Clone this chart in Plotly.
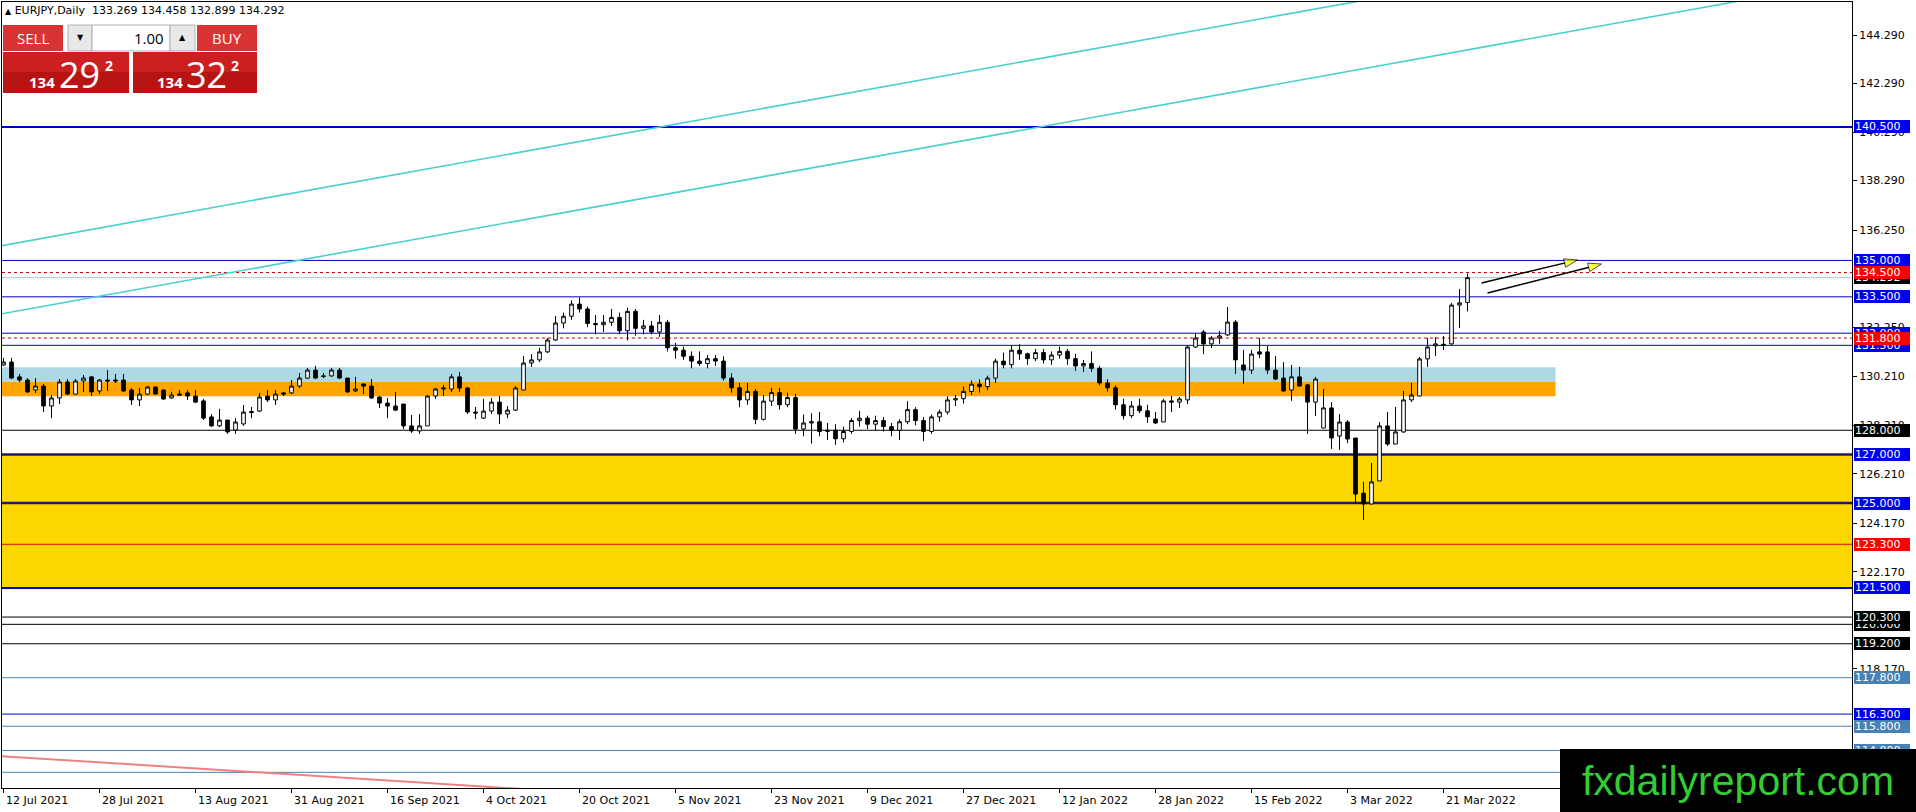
import plotly.graph_objects as go

# EURJPY daily, one entry per trading day (12 Jul 2021 .. 24 Mar 2022)
opens = [
    130.69, 130.81, 130.20, 130.07, 129.66, 129.82, 129.00, 129.33, 129.99, 129.49,
    130.03, 130.20, 129.62, 130.07, 130.07, 130.07, 129.66, 129.25, 129.49, 129.78,
    129.66, 129.33, 129.49, 129.54, 129.41, 129.21, 128.55, 128.18, 128.42, 128.01,
    128.26, 128.77, 128.79, 129.41, 129.25, 129.54, 129.54, 129.82, 130.15, 130.48,
    130.24, 130.24, 130.48, 130.15, 129.62, 129.91, 129.82, 129.37, 129.12, 129.00,
    129.08, 128.18, 127.97, 128.18, 129.41, 129.70, 129.70, 130.20, 129.74, 128.75,
    128.50, 128.79, 129.16, 128.67, 128.83, 129.66, 130.77, 130.90, 131.23, 131.72,
    132.42, 132.70, 133.20, 133.00, 132.40, 132.35, 132.45, 132.65, 132.10, 132.90,
    132.20, 132.30, 132.05, 132.45, 131.40, 131.30, 131.05, 130.85, 130.75, 130.95,
    130.85, 130.15, 129.75, 129.25, 129.60, 128.45, 129.20, 129.55, 129.05, 129.35,
    128.05, 128.30, 128.35, 127.95, 128.00, 127.65, 127.95, 128.40, 128.50, 128.25,
    128.40, 128.15, 128.00, 128.35, 128.85, 128.40, 127.95, 128.55, 128.75, 129.25,
    129.30, 129.60, 129.90, 129.80, 130.15, 130.85, 130.70, 131.30, 131.15, 130.95,
    131.20, 130.90, 131.10, 131.25, 130.95, 130.65, 130.75, 130.55, 129.95, 129.75,
    129.05, 128.60, 129.00, 128.80, 128.46, 128.34, 129.21, 129.16, 129.25, 131.43,
    132.05, 131.56, 131.80, 131.93, 132.46, 130.69, 130.48, 131.23, 131.23, 130.48,
    130.15, 129.66, 130.20, 129.87, 129.16, 128.09, 128.92, 127.76, 128.34, 127.68,
    125.41, 124.96, 125.91, 128.18, 127.43, 127.93, 129.25, 129.41, 130.94, 131.48,
    131.50, 131.56, 133.16, 133.269,
]
highs = [
    130.98, 130.98, 130.32, 130.15, 130.15, 129.91, 129.45, 130.11, 130.11, 130.11,
    130.28, 130.24, 130.11, 130.48, 130.32, 130.32, 129.74, 129.74, 129.82, 129.82,
    129.66, 129.58, 129.66, 129.66, 129.66, 129.29, 128.67, 128.88, 128.42, 128.50,
    129.04, 128.96, 129.54, 129.66, 129.66, 129.58, 130.07, 130.36, 130.57, 130.65,
    130.36, 130.57, 130.57, 130.15, 130.20, 129.91, 130.11, 129.41, 129.33, 129.58,
    129.08, 128.63, 128.67, 129.45, 129.74, 129.87, 130.32, 130.40, 129.78, 128.96,
    129.29, 129.33, 129.41, 129.00, 129.82, 131.06, 131.14, 131.39, 131.80, 132.71,
    132.85, 133.35, 133.48, 133.10, 132.75, 132.75, 133.00, 132.85, 133.05, 133.00,
    132.55, 132.50, 132.75, 132.55, 131.60, 131.45, 131.25, 131.25, 131.10, 131.10,
    131.05, 130.35, 129.95, 129.95, 129.70, 129.45, 129.75, 129.75, 129.55, 129.50,
    128.65, 128.70, 128.75, 128.30, 128.25, 128.15, 128.50, 128.80, 128.60, 128.60,
    128.55, 128.30, 128.45, 129.20, 128.95, 128.55, 128.65, 128.85, 129.40, 129.45,
    129.80, 130.05, 130.10, 130.25, 130.95, 131.20, 131.50, 131.55, 131.20, 131.35,
    131.35, 131.25, 131.45, 131.35, 131.15, 130.90, 131.25, 130.65, 130.10, 129.85,
    129.30, 129.20, 129.30, 129.05, 128.75, 129.29, 129.41, 129.37, 131.48, 132.01,
    132.13, 131.89, 132.09, 133.08, 132.54, 131.31, 131.31, 131.80, 131.48, 131.06,
    130.81, 130.69, 130.61, 129.91, 130.20, 129.70, 129.16, 128.67, 128.42, 127.68,
    125.87, 126.65, 128.34, 128.75, 128.96, 129.62, 129.95, 131.02, 131.80, 131.84,
    131.89, 133.25, 133.82, 134.458,
]
lows = [
    130.65, 130.11, 129.99, 129.54, 129.54, 128.75, 128.50, 129.08, 129.45, 129.49,
    129.58, 129.41, 129.49, 129.62, 129.95, 129.58, 129.04, 129.00, 129.45, 129.49,
    129.25, 129.29, 129.41, 129.25, 129.12, 128.42, 128.13, 128.13, 127.85, 127.85,
    128.18, 128.50, 128.75, 129.16, 129.04, 129.41, 129.49, 129.74, 130.11, 130.11,
    130.15, 130.20, 130.11, 129.54, 129.58, 129.49, 129.29, 128.92, 128.50, 128.79,
    128.05, 127.89, 127.85, 128.18, 129.29, 129.41, 129.58, 129.58, 128.67, 128.46,
    128.46, 128.67, 128.26, 128.50, 128.79, 129.66, 130.61, 130.81, 131.18, 131.68,
    132.20, 132.55, 132.85, 132.25, 131.95, 132.05, 132.30, 131.95, 131.70, 131.90,
    131.95, 131.95, 131.85, 131.25, 130.95, 130.90, 130.55, 130.65, 130.55, 130.65,
    130.05, 129.55, 128.95, 129.05, 128.25, 128.40, 129.00, 128.85, 128.95, 127.85,
    127.75, 127.45, 127.75, 127.60, 127.40, 127.50, 127.85, 128.15, 128.05, 128.00,
    127.95, 127.75, 127.60, 128.25, 128.20, 127.55, 127.85, 128.35, 128.65, 129.00,
    129.10, 129.45, 129.55, 129.65, 129.95, 130.55, 130.55, 130.90, 130.70, 130.85,
    130.75, 130.70, 130.95, 130.70, 130.45, 130.40, 130.40, 129.85, 129.60, 128.85,
    128.45, 128.50, 128.70, 128.30, 128.26, 128.34, 128.75, 128.92, 129.08, 131.39,
    131.14, 131.39, 131.56, 131.89, 130.32, 129.91, 130.32, 130.98, 130.32, 130.07,
    129.58, 129.21, 129.82, 127.85, 128.59, 128.09, 127.23, 127.19, 127.47, 124.96,
    124.30, 124.96, 125.91, 127.35, 127.43, 127.89, 129.16, 129.41, 130.61, 131.06,
    131.31, 131.52, 132.21, 132.899,
]
closes = [
    130.81, 130.15, 130.07, 129.58, 129.82, 129.00, 129.33, 129.99, 129.49, 130.03,
    130.15, 129.58, 130.07, 130.03, 130.03, 129.62, 129.25, 129.49, 129.78, 129.49,
    129.29, 129.45, 129.45, 129.41, 129.16, 128.50, 128.18, 128.42, 127.93, 128.34,
    128.75, 128.73, 129.37, 129.25, 129.49, 129.49, 129.82, 130.15, 130.48, 130.15,
    130.22, 130.48, 130.15, 129.58, 129.70, 129.82, 129.33, 129.12, 129.00, 128.83,
    128.18, 127.97, 128.18, 129.41, 129.70, 129.74, 130.20, 129.74, 128.75, 128.71,
    128.79, 129.16, 128.67, 128.83, 129.74, 130.77, 130.90, 131.23, 131.72, 132.42,
    132.70, 133.20, 133.00, 132.40, 132.35, 132.45, 132.65, 132.10, 132.90, 132.20,
    132.30, 132.05, 132.45, 131.40, 131.30, 131.05, 130.85, 130.75, 130.95, 130.85,
    130.15, 129.75, 129.25, 129.60, 128.45, 129.20, 129.55, 129.05, 129.35, 128.05,
    128.30, 128.35, 127.95, 128.00, 127.65, 127.95, 128.40, 128.50, 128.25, 128.40,
    128.15, 128.00, 128.35, 128.85, 128.40, 127.95, 128.55, 128.75, 129.25, 129.30,
    129.60, 129.90, 129.80, 130.15, 130.85, 130.70, 131.30, 131.15, 130.95, 131.20,
    130.90, 131.10, 131.25, 130.95, 130.65, 130.75, 130.55, 129.95, 129.75, 129.05,
    128.60, 129.00, 128.80, 128.55, 128.30, 129.21, 129.16, 129.29, 131.43, 131.80,
    131.56, 131.80, 131.89, 132.46, 130.90, 130.48, 131.14, 131.14, 130.48, 130.11,
    129.62, 130.20, 129.82, 129.16, 130.11, 128.92, 127.68, 128.34, 127.64, 125.37,
    124.96, 125.87, 128.18, 127.43, 127.93, 129.25, 129.45, 130.94, 131.43, 131.56,
    131.54, 133.16, 133.25, 134.292,
]

date_labels = ['12 Jul 2021', '28 Jul 2021', '13 Aug 2021', '31 Aug 2021', '16 Sep 2021',
               '4 Oct 2021', '20 Oct 2021', '5 Nov 2021', '23 Nov 2021', '9 Dec 2021',
               '27 Dec 2021', '12 Jan 2022', '28 Jan 2022', '15 Feb 2022', '3 Mar 2022',
               '21 Mar 2022']
# price scale marks (the ones fully hidden under level labels are left out)
price_ticks = [144.29, 142.29, 140.29, 138.29, 136.25, 132.25, 130.21,
               128.21, 126.21, 124.17, 122.17, 118.17]

# horizontal levels drawn on the chart
blue_levels = [140.5, 135.0, 133.5, 132.0, 131.5, 121.5, 116.3]
navy_levels = [127.0, 125.0]
steel_levels = [117.8, 115.8, 114.8, 113.9]
black_levels = [128.0, 120.0, 120.3, 119.2]
red_dash_levels = [134.5, 131.8]
red_levels = [123.3]
last_price = 134.292

gold_zone = [121.5, 127.0]
blue_zone = [130.0, 130.6]
orange_zone = [129.4, 130.0]
zone_end = 194

# trend lines: bar index / price anchors
chan_top_x, chan_top_y = [-0.4, 190], [135.60, 146.91]
chan_low_x, chan_low_y = [-0.4, 240], [132.79, 147.06]
coral_x, coral_y = [-0.4, 80], [114.57, 112.90]
arrow1_x, arrow1_y = [184.75, 196.75], [134.07, 135.02]
arrow2_x, arrow2_y = [185.5, 199.75], [133.66, 134.85]

symbol = 'EURJPY,Daily'
bid_big, bid_small, bid_pip = '134', '29', '2'
ask_big, ask_small, ask_pip = '134', '32', '2'
lot = '1.00'

W, H = 1916, 812
L, R, T, B = 2, 64, 2, 24
PW, PH = W - L - R, H - T - B
FONT = 'DejaVu Sans'


def xp(px):
    return (px - L) / PW


def yp(py):
    return (H - B - py) / PH


idx = list(range(len(opens)))

fig = go.Figure()

for xs, ys, col, w in [(chan_top_x, chan_top_y, '#48D1CC', 1.6),
                       (chan_low_x, chan_low_y, '#48D1CC', 1.6),
                       (coral_x, coral_y, '#F08080', 2)]:
    fig.add_trace(go.Scatter(x=xs, y=ys, mode='lines', line=dict(color=col, width=w),
                             hoverinfo='skip', showlegend=False))

fig.add_trace(go.Candlestick(
    x=idx, open=opens, high=highs, low=lows, close=closes,
    increasing=dict(fillcolor='white', line=dict(color='black', width=1)),
    decreasing=dict(fillcolor='black', line=dict(color='black', width=1)),
    showlegend=False,
))

for xs, ys in [(arrow1_x, arrow1_y), (arrow2_x, arrow2_y)]:
    fig.add_trace(go.Scatter(
        x=xs, y=ys, mode='lines+markers', line=dict(color='black', width=1.5),
        marker=dict(symbol='arrow', size=[0, 14], angleref='previous', color='#FFFF00',
                    line=dict(color='black', width=1)),
        hoverinfo='skip', showlegend=False))

shapes = []
x_lo = -0.19
shapes.append(dict(type='rect', xref='paper', x0=0, x1=1, yref='y', y0=gold_zone[0], y1=gold_zone[1],
                   fillcolor='#FFD700', line=dict(width=0), layer='below'))
shapes.append(dict(type='rect', xref='x', x0=x_lo, x1=zone_end, yref='y', y0=blue_zone[0], y1=blue_zone[1],
                   fillcolor='#ADD8E6', line=dict(width=0), layer='below'))
shapes.append(dict(type='rect', xref='x', x0=x_lo, x1=zone_end, yref='y', y0=orange_zone[0], y1=orange_zone[1],
                   fillcolor='#FFA500', line=dict(width=0), layer='below'))


def hline(p, color, width=1, dash='solid'):
    shapes.append(dict(type='line', xref='paper', x0=0, x1=1, yref='y', y0=p, y1=p,
                       line=dict(color=color, width=width, dash=dash), layer='below'))


hline(last_price, '#C0C0C0')
for p in blue_levels:
    hline(p, '#0000CD', 2 if p in (140.5, 121.5) else 1)
for p in navy_levels:
    hline(p, '#1F1A66', 2.5)
for p in steel_levels:
    hline(p, '#4682B4')
for p in black_levels:
    hline(p, 'black')
for p in red_levels:
    hline(p, '#E00000')
for p in red_dash_levels:
    hline(p, '#C00000', 1, '3px,3px')

annotations = []


def level_label(p, bg, txt=None):
    annotations.append(dict(xref='paper', x=1 + 2 / PW, xanchor='left', yref='y', y=p, yanchor='middle',
                            text=txt or f'{p:.3f}', showarrow=False, bgcolor=bg, width=54, height=11,
                            borderpad=1, borderwidth=0, align='left',
                            font=dict(family=FONT, size=11, color='white')))


for p in blue_levels + navy_levels:
    level_label(p, '#0000F0')
for p in steel_levels:
    level_label(p, '#4682B4')
for p in black_levels:
    level_label(p, 'black')
level_label(last_price, 'black')
for p in red_levels + red_dash_levels:
    level_label(p, '#FF0000')

# date labels start right of their tick, like the terminal draws them
for k, lab in enumerate(date_labels):
    annotations.append(dict(xref='x', x=12 * k, xanchor='left', xshift=0, yref='paper', y=yp(800),
                            yanchor='middle', text=lab, showarrow=False,
                            font=dict(family=FONT, size=11, color='black')))

# header line
annotations.append(dict(xref='paper', x=xp(3), xanchor='left', yref='paper', y=yp(11), yanchor='middle',
                        text="<span style='font-size:8px'>▲</span> " + symbol + '&nbsp; ' +
                             ' '.join(f'{v:.3f}' for v in [opens[-1], highs[-1], lows[-1], closes[-1]]),
                        showarrow=False, font=dict(family=FONT, size=11, color='black')))


# one-click trading panel
def box(x0, y0, x1, y1, fill, line=None):
    shapes.append(dict(type='rect', xref='paper', yref='paper', x0=xp(x0), x1=xp(x1), y0=yp(y1), y1=yp(y0),
                       fillcolor=fill, line=dict(width=1 if line else 0, color=line or fill), layer='above'))


def txt(x, y, s, size, color='white', family='Open Sans', anchor='center'):
    annotations.append(dict(xref='paper', yref='paper', x=xp(x), y=yp(y), xanchor=anchor, yanchor='middle',
                            text=s, showarrow=False, font=dict(family=family, size=size, color=color)))


box(3, 25, 63, 51, '#D93333')
box(197, 25, 257, 51, '#D93333')
box(68, 25, 92, 51, '#E8E8E8', '#B0B0B0')
box(92, 25, 170, 51, 'white', '#B0B0B0')
box(170, 25, 195, 51, '#E8E8E8', '#B0B0B0')
for a, b in [(3, 129), (133, 257)]:
    box(a, 52, b, 72, '#CC2020')
    box(a, 72, b, 93, '#B81414')

txt(33, 38, 'SELL', 15)
txt(227, 38, 'BUY', 15)
txt(80, 38, '▼', 8, 'black', FONT)
txt(182, 38, '▲', 8, 'black', FONT)
txt(166, 38, lot, 15, 'black', anchor='right')
txt(42, 82, f'<b>{bid_big}</b>', 15)
txt(79, 74, bid_small, 36)
txt(109, 66, f'<b>{bid_pip}</b>', 14)
txt(170, 82, f'<b>{ask_big}</b>', 15)
txt(206, 74, ask_small, 36)
txt(235, 66, f'<b>{ask_pip}</b>', 14)

# watermark box in the lower right corner
annotations.append(dict(xref='paper', yref='paper', x=xp(W), xanchor='right', y=yp(H), yanchor='bottom',
                        text='fxdailyreport.com', showarrow=False, bgcolor='black', width=356, height=63,
                        borderpad=0, borderwidth=0, align='center', valign='middle',
                        font=dict(family='Liberation Sans', size=41, color='#33CC33')))

fig.update_layout(
    width=W, height=H, margin=dict(l=L, r=R, t=T, b=B),
    paper_bgcolor='white', plot_bgcolor='white', template='none',
    boxgap=0.35, showlegend=False,
    shapes=shapes, annotations=annotations,
    xaxis=dict(range=[x_lo, 231.06], showgrid=False, zeroline=False, showline=True, mirror=True,
               linecolor='black', linewidth=1, ticks='outside', ticklen=4, tickcolor='black',
               tickvals=[12 * k for k in range(len(date_labels))], showticklabels=False,
               rangeslider=dict(visible=False), automargin=False, fixedrange=True),
    yaxis=dict(range=[113.254, 145.652], side='right', showgrid=False, zeroline=False, showline=True,
               mirror=True, linecolor='black', linewidth=1, ticks='outside', ticklen=4, tickcolor='black',
               tickvals=price_ticks, ticktext=[f'{v:.3f}' for v in price_ticks],
               tickfont=dict(family=FONT, size=11, color='black'), automargin=False, fixedrange=True),
)

fig.write_html("out.html", config={'displayModeBar': False},
               post_script="document.body.style.margin='0';document.body.style.overflow='hidden';")
